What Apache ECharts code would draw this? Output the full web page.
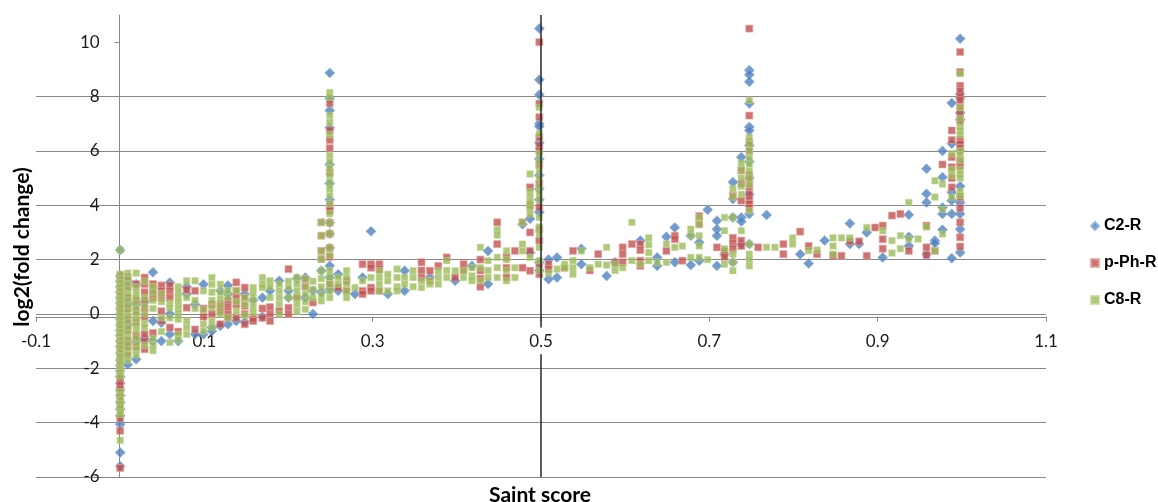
<!DOCTYPE html>
<html>
<head>
<meta charset="utf-8">
<script src="https://cdn.jsdelivr.net/npm/echarts@6/dist/echarts.min.js"></script>
<style>
html,body{margin:0;padding:0;background:#fff;}
#chart{width:1158px;height:502px;}
</style>
</head>
<body>
<div id="chart"></div>
<script>
// Tick labels
const xTicks = [-0.1, 0.1, 0.3, 0.5, 0.7, 0.9, 1.1];
const yTicks = [-6, -4, -2, 0, 2, 4, 6, 8, 10];
const seriesNames = ['C2-R', 'p-Ph-R', 'C8-R'];
const refLineX = 0.5;

// Each row: [Saint score, log2(fold change) values ...]
const c2R = [
  [0, 2.35, 1.4, 1.2, 1.0, 0.8, 0.6, 0.4, 0.2, 0.0, -0.2, -0.4, -0.6, -0.8, -1.0, -1.2, -1.45, -1.7, -1.9, -2.1, -2.3, -2.55, -2.8, -3.0, -3.25, -3.5, -3.75, -4.06, -5.1, -5.6],
  [0.009, 1.2, 0.4, -0.4, -1.86],
  [0.019, 1.09, 0.35, -1.0, -1.67],
  [0.029, 0.45, -0.9],
  [0.039, 1.53, -0.26, -1.0],
  [0.049, -0.32, -1.0],
  [0.059, 1.16, 0.0, -0.75],
  [0.069, -1.0],
  [0.079, 1.0, 0.73],
  [0.089, 0.35, -0.75],
  [0.099, 1.09, -0.75],
  [0.109, -0.5, -0.63],
  [0.119, 0.85, -0.44],
  [0.128, 1.05, 0.73, -0.38],
  [0.138, -0.26],
  [0.148, 0.73, -0.3],
  [0.158, 0.5],
  [0.169, 0.6, -0.1],
  [0.178, 0.85],
  [0.189, 1.22],
  [0.2, 0.85, 0.6],
  [0.21, 1.3],
  [0.22, 1.34, 0.6],
  [0.229, 0.85, 0.0],
  [0.239, 1.59, 0.8],
  [0.249, 8.87, 7.93, 7.49, 6.85, 5.5, 4.8, 4.2, 3.36, 2.95, 2.43, 1.77, 1.34, 0.9],
  [0.259, 1.46, 0.85],
  [0.279, 0.73],
  [0.288, 1.34],
  [0.298, 3.04],
  [0.318, 0.73],
  [0.338, 1.59, 0.85],
  [0.368, 1.34],
  [0.398, 1.22],
  [0.418, 1.77],
  [0.437, 2.32, 1.1],
  [0.478, 3.3],
  [0.487, 3.5, 2.25],
  [0.498, 10.5, 8.62, 8.07, 7.0, 6.9, 6.3, 5.7, 5.1, 4.6, 4.2, 3.74, 1.9, 1.6],
  [0.509, 2.0, 1.28],
  [0.519, 2.08, 1.34],
  [0.548, 1.83, 2.4],
  [0.578, 1.4],
  [0.588, 1.9],
  [0.618, 2.7],
  [0.638, 2.08, 1.77],
  [0.649, 2.84],
  [0.659, 3.18, 1.9],
  [0.678, 2.88, 1.8],
  [0.688, 2.63, 1.96],
  [0.698, 3.83],
  [0.709, 3.43, 3.12, 2.88, 1.77],
  [0.718, 2.2],
  [0.728, 4.85, 4.23, 3.55, 1.9],
  [0.738, 5.77, 3.55, 3.4, 2.57],
  [0.7475, 8.97, 8.8, 8.54, 7.74, 6.88, 6.75, 6.2, 5.6, 5.0, 4.4, 3.68, 2.57],
  [0.768, 3.64],
  [0.808, 2.2],
  [0.818, 1.86],
  [0.837, 2.7],
  [0.867, 3.33, 2.57],
  [0.878, 2.57],
  [0.887, 3.0],
  [0.906, 2.08],
  [0.937, 3.65, 2.84, 2.5],
  [0.958, 5.34, 4.42, 4.1, 2.2],
  [0.968, 2.7, 2.6],
  [0.977, 6.0, 5.03, 3.92, 3.68, 3.1],
  [0.988, 7.76, 6.26, 4.48, 4.17, 3.68, 2.05],
  [0.998, 10.13, 8.1, 7.95, 7.4, 7.15, 6.0, 4.7, 4.1, 3.68, 3.12, 2.26]
];

const pPhR = [
  [0, 1.4, 1.25, 1.05, 0.85, 0.65, 0.45, 0.25, 0.05, -0.15, -0.35, -0.55, -0.8, -1.05, -1.3, -1.55, -1.8, -2.05, -2.3, -2.47, -2.62, -2.77, -2.95, -3.2, -3.45, -3.84, -4.3, -5.67],
  [0.009, 1.35, 1.0, 0.6, 0.2, -0.2, -0.6, -1.0, -1.2, -1.5],
  [0.019, 1.1, 0.5, 0.1, -0.3, -0.8, -1.2],
  [0.029, 1.34, 1.1, 0.8, 0.5, 0.2, -0.1, -0.75, -1.0, -1.3],
  [0.039, 1.1, 0.85, 0.6, -0.7],
  [0.049, 1.05, 0.85, 0.6, 0.1, -0.25],
  [0.059, 1.05, 0.85, 0.6, -0.5],
  [0.069, -0.65],
  [0.079, 0.9, 0.23],
  [0.089, 0.85, -0.57],
  [0.099, 0.2, -0.1],
  [0.109, 0.35, 0.0],
  [0.119, 0.35, 0.1, -0.38],
  [0.128, 0.48, 0.25, 0.0, -0.14],
  [0.138, 1.16, 0.85, 0.6, 0.35, -0.14],
  [0.148, 0.97, 0.6, 0.3, 0.0, -0.38],
  [0.158, -0.14, -0.26],
  [0.169, 0.2, -0.14],
  [0.178, 0.25, 0.0, -0.26],
  [0.189, 0.1],
  [0.2, 1.65, 0.23, 0.0],
  [0.21, 0.6],
  [0.22, 1.28, 1.0],
  [0.229, 0.42],
  [0.239, 3.37, 2.88, 2.32, 2.02],
  [0.249, 7.75, 6.75, 6.4, 6.1, 5.2, 3.98, 3.8, 3.36, 2.95, 2.43, 2.1, 1.1],
  [0.259, 0.97],
  [0.269, 1.22, 0.85],
  [0.288, 1.83, 0.85, 0.73],
  [0.298, 1.83, 1.7, 0.97, 0.85],
  [0.308, 1.83, 1.65, 0.85],
  [0.358, 1.9, 1.6, 1.34],
  [0.368, 1.59, 1.22],
  [0.378, 1.77],
  [0.388, 2.08],
  [0.398, 1.34],
  [0.408, 1.83, 1.6],
  [0.428, 2.0, 1.6, 1.3, 1.0],
  [0.448, 3.37, 2.57],
  [0.459, 2.08, 1.7, 1.34],
  [0.469, 2.32],
  [0.478, 3.37, 1.7],
  [0.487, 4.66, 4.0, 3.0, 2.32, 1.59],
  [0.498, 10.0, 7.74, 7.24, 6.5, 6.2, 6.0, 5.5, 4.8, 3.92, 3.12, 2.7, 1.8, 1.46],
  [0.509, 1.83, 1.65],
  [0.528, 1.7],
  [0.538, 2.32],
  [0.558, 1.6],
  [0.568, 2.2],
  [0.588, 1.9],
  [0.597, 2.45, 2.2, 1.9],
  [0.608, 2.57],
  [0.618, 2.57, 2.35, 1.96, 1.77],
  [0.649, 2.32],
  [0.659, 2.88, 2.75],
  [0.668, 1.96],
  [0.688, 3.6, 3.3],
  [0.709, 2.45],
  [0.718, 2.3, 2.1],
  [0.728, 4.35, 2.8, 2.6, 2.4],
  [0.738, 5.28, 4.8, 4.17, 2.7, 2.5],
  [0.7475, 10.5, 7.3, 6.32, 6.0, 5.1, 4.9, 4.66, 4.4, 4.2, 4.05, 3.9],
  [0.758, 2.45],
  [0.788, 2.57, 2.2],
  [0.808, 3.03],
  [0.818, 2.5],
  [0.828, 2.2],
  [0.847, 2.14],
  [0.857, 2.14],
  [0.867, 2.67],
  [0.878, 2.67],
  [0.887, 2.14],
  [0.897, 3.18],
  [0.906, 3.25, 2.75, 2.4],
  [0.917, 3.62],
  [0.927, 3.68],
  [0.937, 2.32],
  [0.958, 3.25, 2.45, 2.17],
  [0.968, 2.32],
  [0.977, 5.5],
  [0.988, 6.75, 6.4, 5.77, 5.4, 5.0, 4.66],
  [0.998, 9.64, 8.9, 8.4, 8.2, 8.0, 7.86, 7.6, 7.35, 7.1, 6.4, 6.25, 6.1, 5.65, 5.45, 4.3, 3.9, 3.37, 2.82, 2.48]
];

const c8R = [
  [0, 2.35, 1.47, 1.3, 1.15, 1.0, 0.85, 0.7, 0.55, 0.4, 0.25, 0.1, -0.05, -0.2, -0.35, -0.5, -0.65, -0.8, -0.95, -1.1, -1.25, -1.4, -1.55, -1.7, -1.85, -2.0, -2.15, -2.3, -2.85, -3.0, -3.15, -3.3, -3.45, -3.6, -3.7, -4.65],
  [0.009, 1.5, 1.3, 1.1, 0.9, 0.7, 0.5, 0.3, 0.1, -0.1, -0.3, -0.5, -0.7, -0.9, -1.1, -1.3, -1.5, -1.7],
  [0.019, 1.5, 1.0, 0.8, 0.6, 0.4, 0.2, 0.0, -0.2, -0.4, -0.6, -0.9, -1.1, -1.3, -1.5],
  [0.029, 1.2, 0.6, 0.3, 0.0, -0.35, -0.5, -1.15],
  [0.039, 1.0, 0.8, 0.5, 0.2, -0.9, -1.15, -1.35],
  [0.049, 0.75, 0.45, -0.14, -0.65],
  [0.059, 0.4, 0.23, -0.14, -1.05],
  [0.069, 1.0, 0.8, 0.6, 0.4, 0.2, 0.0, -0.2, -0.75, -0.95],
  [0.079, 1.22, 0.6, -0.26, -0.5, -0.75],
  [0.089, 1.22, 0.5, 0.2],
  [0.099, 0.85, 0.15, -0.38, -0.63],
  [0.109, 1.34, 1.09, 0.8, 0.5, 0.23, -0.26, -0.5],
  [0.119, 1.09, 0.8, 0.55, 0.3, 0.0],
  [0.128, 0.85, 0.6, -0.14],
  [0.138, 0.85, 0.45, 0.1],
  [0.148, 0.6, 0.35, -0.05],
  [0.158, 0.97, 0.75, 0.5, 0.25, 0.05],
  [0.169, 1.34, 1.1, 0.97],
  [0.178, 1.22, 1.0, 0.6],
  [0.189, 1.09, 0.85, 0.6, 0.35, 0.0],
  [0.2, 1.2, 0.97, 0.6],
  [0.21, 1.34, 1.1, 0.85, 0.6, 0.35, 0.1],
  [0.22, 1.3, 1.0, 0.72, 0.45, 0.17],
  [0.229, 1.2, 0.9, 0.6],
  [0.239, 3.37, 2.88, 2.32, 2.02, 1.59, 1.3, 1.0, 0.7, 0.48],
  [0.249, 8.15, 7.97, 7.3, 7.05, 6.6, 5.83, 5.6, 5.35, 5.1, 4.85, 4.6, 4.35, 4.06, 3.69, 3.36, 2.95, 2.43, 2.15, 1.59, 1.35, 1.1, 0.85, 0.6],
  [0.259, 1.34, 1.1],
  [0.269, 1.59, 1.34, 1.1, 0.85, 0.6],
  [0.279, 0.97],
  [0.288, 1.22],
  [0.298, 1.34],
  [0.308, 1.59, 1.34, 1.1, 0.85],
  [0.318, 1.46, 1.22, 0.85],
  [0.329, 1.65, 1.34, 1.0, 0.85],
  [0.338, 1.34, 1.1],
  [0.348, 1.59, 1.34, 1.0],
  [0.358, 1.22, 0.97],
  [0.368, 1.22, 1.1],
  [0.378, 1.59, 1.34, 1.1],
  [0.388, 1.96, 1.6, 1.34],
  [0.398, 1.59],
  [0.408, 1.59, 1.34],
  [0.418, 1.7, 1.4, 1.22],
  [0.428, 2.45, 1.7, 1.22],
  [0.437, 1.96, 1.6, 1.34],
  [0.448, 3.1, 2.9, 2.08, 1.7, 1.34],
  [0.459, 2.32, 2.0, 1.6, 1.22],
  [0.469, 1.7, 1.34],
  [0.478, 3.37, 2.57, 2.32],
  [0.487, 5.15, 4.5, 4.3, 4.1, 3.9, 3.68, 2.08],
  [0.498, 7.6, 6.63, 5.9, 5.6, 5.3, 5.0, 4.7, 4.45, 4.2, 3.55, 3.2, 2.94, 2.45, 1.96, 1.6],
  [0.509, 1.5],
  [0.519, 1.65],
  [0.528, 1.83, 1.7],
  [0.538, 1.96, 1.7, 1.46],
  [0.548, 2.32],
  [0.558, 1.7],
  [0.568, 1.83],
  [0.578, 2.45, 1.8],
  [0.588, 1.83, 1.6],
  [0.597, 1.7],
  [0.608, 3.37, 1.96],
  [0.618, 1.83],
  [0.628, 2.8, 2.55, 2.26, 1.96],
  [0.638, 1.9],
  [0.649, 2.57, 1.9],
  [0.659, 2.45],
  [0.668, 2.5],
  [0.678, 3.12, 2.88, 2.08],
  [0.688, 3.55, 3.3, 2.88, 2.5, 2.08],
  [0.698, 2.0],
  [0.718, 3.55, 3.06, 2.4, 1.83],
  [0.728, 4.6, 4.3, 3.55, 2.2, 1.9, 1.59],
  [0.738, 5.55, 5.3, 5.0, 4.7, 4.4, 3.06],
  [0.7475, 7.86, 6.5, 6.25, 6.0, 5.75, 5.5, 5.25, 5.0, 4.75, 3.8, 2.57, 2.2, 2.0, 1.77],
  [0.768, 2.45],
  [0.778, 2.45],
  [0.799, 2.8, 2.57],
  [0.818, 2.33],
  [0.828, 2.35],
  [0.847, 2.8, 2.5, 2.2],
  [0.857, 2.8],
  [0.867, 2.8],
  [0.887, 3.18],
  [0.906, 3.06],
  [0.917, 2.7, 2.24],
  [0.927, 2.88, 2.4],
  [0.937, 4.1, 2.76],
  [0.948, 2.76],
  [0.958, 3.2],
  [0.968, 4.9, 4.3, 2.32],
  [0.977, 4.78, 3.85, 2.94],
  [0.988, 5.9, 5.3, 5.1, 4.3],
  [0.998, 8.84, 7.6, 7.2, 6.9, 6.75, 6.6, 6.0, 5.85, 5.65, 5.3, 5.15, 5.0, 4.5, 4.35]
];

const toPoints = rows => rows.flatMap(r => r.slice(1).map(y => [r[0], y]));

const gridColor = '#878787';
const chart = echarts.init(document.getElementById('chart'), null, {renderer: 'canvas'});
chart.setOption({
  animation: false,
  backgroundColor: '#ffffff',
  grid: {left: 36, right: 112, top: 15, bottom: 25, containLabel: false},
  xAxis: {
    type: 'value', min: -0.1, max: 1.1, position: 'bottom', offset: 0,
    axisLine: {show: true, onZero: false, lineStyle: {color: gridColor, width: 1}},
    axisTick: {show: true, customValues: xTicks, length: 5, lineStyle: {color: gridColor}},
    axisLabel: {customValues: xTicks, margin: 16, fontFamily: 'Lato', fontSize: 17, color: '#1a1a1a',
      formatter: v => String(v)},
    splitLine: {show: false}
  },
  yAxis: {
    type: 'value', min: -6, max: 11, interval: 2, position: 'left', offset: 0,
    axisLine: {show: true, onZero: false, lineStyle: {color: gridColor, width: 1}},
    axisTick: {show: true, customValues: yTicks, length: 5, lineStyle: {color: gridColor}},
    axisLabel: {customValues: yTicks, margin: 20, fontFamily: 'Lato', fontSize: 17, color: '#1a1a1a'},
    splitLine: {show: true, showMaxLine: false, lineStyle: {color: gridColor, width: 1}}
  },
  legend: {
    orient: 'vertical', left: 1085, top: 213, itemGap: 21, itemWidth: 8, itemHeight: 8,
    data: [
      {name: seriesNames[0], icon: 'diamond'},
      {name: seriesNames[1], icon: 'rect'},
      {name: seriesNames[2], icon: 'rect'}
    ],
    textStyle: {fontFamily: 'Liberation Sans', fontWeight: 'bold', fontSize: 16, color: '#000'}
  },
  graphic: [
    {type: 'text', x: 22, y: 247, rotation: Math.PI / 2,
      style: {text: 'log2(fold change)', font: 'bold 21px Lato', fill: '#000', textAlign: 'center', textVerticalAlign: 'middle'}},
    {type: 'text', x: 540, y: 495,
      style: {text: 'Saint score', font: 'bold 21px Lato', fill: '#000', textAlign: 'center', textVerticalAlign: 'middle'}}
  ],
  series: [
    {
      type: 'scatter', name: 'ref', data: [], z: 1, silent: true,
      markLine: {
        silent: true, symbol: ['none', 'none'], label: {show: false},
        lineStyle: {color: '#262626', width: 1.5, type: 'solid'},
        emphasis: {disabled: true},
        data: [
          [{coord: [refLineX, 11]}, {coord: [refLineX, -0.5]}],
          [{coord: [refLineX, -1.48]}, {coord: [refLineX, -6]}]
        ]
      }
    },
    {
      type: 'scatter', name: seriesNames[0], data: toPoints(c2R), z: 2,
      symbol: 'diamond', symbolSize: 10,
      itemStyle: {color: '#4F81BD', borderColor: '#8fb0da', borderWidth: 0.8}
    },
    {
      type: 'scatter', name: seriesNames[1], data: toPoints(pPhR), z: 3,
      symbol: 'rect', symbolSize: 7,
      itemStyle: {color: '#C0504D', borderColor: '#e2a3a2', borderWidth: 0.8}
    },
    {
      type: 'scatter', name: seriesNames[2], data: toPoints(c8R), z: 4,
      symbol: 'rect', symbolSize: 6.5,
      itemStyle: {color: '#9BBB59', borderColor: '#c6da9f', borderWidth: 0.6}
    }
  ]
});

// Move the axes so they cross at zero (labels follow the axis lines)
const yZeroPx = chart.convertToPixel({yAxisIndex: 0}, 0);
const yMinPx = chart.convertToPixel({yAxisIndex: 0}, -6);
const xZeroPx = chart.convertToPixel({xAxisIndex: 0}, 0);
const xMinPx = chart.convertToPixel({xAxisIndex: 0}, -0.1);
chart.setOption({
  xAxis: {offset: -(yMinPx - yZeroPx)},
  yAxis: {offset: -(xZeroPx - xMinPx)}
});
</script>
</body>
</html>
